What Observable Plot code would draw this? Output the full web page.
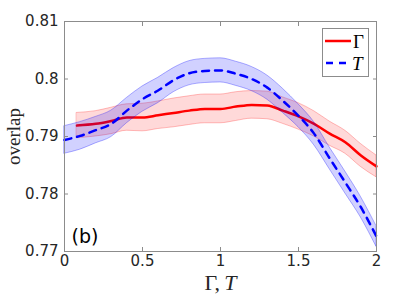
<!DOCTYPE html>
<html>
<head>
<meta charset="utf-8">
<script src="https://cdn.jsdelivr.net/npm/d3@7"></script>
<script src="https://cdn.jsdelivr.net/npm/@observablehq/plot@0.6"></script>
<style>
  html, body { margin: 0; padding: 0; background: #fff; }
  #wrap { position: relative; width: 416px; height: 296px; }
  #legend { position: absolute; left: 0; top: 0; pointer-events: none; }
</style>
</head>
<body>
<div id="wrap"></div>
<script>
// ---- data ----
const tX   = [0, 0.1, 0.2, 0.3, 0.4, 0.5, 0.6, 0.7, 0.8, 0.9, 1.0, 1.1, 1.2, 1.3, 1.4, 1.5, 1.6, 1.7, 1.8, 1.9, 2.0];
const tY   = [0.7894, 0.7901, 0.7911, 0.7922, 0.7945, 0.7965, 0.7980, 0.7998, 0.8010, 0.8014, 0.8015, 0.8009, 0.8000, 0.7985, 0.7962, 0.7936, 0.7905, 0.7862, 0.7820, 0.7777, 0.7726];
const tErr = [0.0024, 0.0024, 0.0023, 0.0023, 0.0022, 0.0022, 0.0022, 0.0021, 0.0021, 0.0021, 0.0021, 0.0021, 0.0021, 0.0021, 0.0021, 0.0020, 0.0020, 0.0019, 0.0019, 0.0018, 0.0018];

const gX   = [0.08, 0.2, 0.3, 0.4, 0.5, 0.6, 0.7, 0.8, 0.9, 1.0, 1.1, 1.2, 1.3, 1.4, 1.5, 1.6, 1.7, 1.8, 1.9, 2.0];
const gY   = [0.7919, 0.7922, 0.7927, 0.7933, 0.7933, 0.7937, 0.7941, 0.7945, 0.7948, 0.7948, 0.7952, 0.7955, 0.7954, 0.7945, 0.7935, 0.7922, 0.7905, 0.7890, 0.7867, 0.7848];
const gErr = [0.0022, 0.0022, 0.0023, 0.0023, 0.0024, 0.0024, 0.0025, 0.0025, 0.0025, 0.0025, 0.0025, 0.0024, 0.0024, 0.0023, 0.0023, 0.0022, 0.0021, 0.0020, 0.0020, 0.0019];

const xTicks = [0, 0.5, 1, 1.5, 2];
const yTicks = [0.77, 0.78, 0.79, 0.80, 0.81];
const legendLabels = ["Γ", "T"];

const tData = tX.map((x, i) => ({x, y: tY[i], lo: tY[i] - tErr[i], hi: tY[i] + tErr[i]}));
const gData = gX.map((x, i) => ({x, y: gY[i], lo: gY[i] - gErr[i], hi: gY[i] + gErr[i]}));

const fmt = d => String(+d.toFixed(2));
const blank = () => "";
const font = "DejaVu Sans, sans-serif";

const plot = Plot.plot({
  width: 416,
  height: 296,
  marginLeft: 64,
  marginRight: 40,
  marginTop: 21,
  marginBottom: 45,
  style: {fontFamily: font, fontSize: "15px", color: "#262626", background: "#fff"},
  x: {domain: [0, 2]},
  y: {domain: [0.77, 0.81]},
  marks: [
    Plot.areaY(gData, {x: "x", y1: "lo", y2: "hi", fill: "#ff0000", fillOpacity: 0.15, stroke: "#ff0000", strokeOpacity: 0.25, strokeWidth: 1, curve: "monotone-x"}),
    Plot.line(gData, {x: "x", y: "y", stroke: "#ff0000", strokeWidth: 2.5, curve: "monotone-x"}),
    Plot.areaY(tData, {x: "x", y1: "lo", y2: "hi", fill: "#0000ff", fillOpacity: 0.18, stroke: "#0000ff", strokeOpacity: 0.3, strokeWidth: 1, curve: "monotone-x"}),
    Plot.line(tData, {x: "x", y: "y", stroke: "#0000ff", strokeWidth: 2.5, strokeDasharray: "7,6", curve: "monotone-x"}),
    Plot.frame({stroke: "#8c8c8c", strokeWidth: 1}),
    Plot.axisX(xTicks, {anchor: "bottom", tickSize: -4, tickPadding: 8, tickFormat: fmt, stroke: "#8c8c8c", fill: "#262626", fontSize: 15, label: "Γ, T", labelAnchor: "center", labelOffset: 38, labelArrow: "none"}),
    Plot.axisX(xTicks, {anchor: "top", tickSize: -4, tickFormat: blank, label: null, stroke: "#8c8c8c"}),
    Plot.axisY(yTicks, {anchor: "left", tickSize: -4, tickPadding: 10, tickFormat: fmt, stroke: "#8c8c8c", fill: "#262626", fontSize: 15, label: "overlap", labelAnchor: "center", labelOffset: 58, labelArrow: "none"}),
    Plot.axisY(yTicks, {anchor: "right", tickSize: -4, tickFormat: blank, label: null, stroke: "#8c8c8c"}),
    Plot.text(["(b)"], {frameAnchor: "bottom-left", dx: 7, dy: -9, textAnchor: "start", lineAnchor: "bottom", fontSize: 19, fill: "#000"})
  ]
});

document.getElementById("wrap").appendChild(plot);

// style axis labels as serif math
const svg = d3.select(plot);
svg.selectAll('[aria-label="x-axis label"] text, [aria-label="y-axis label"] text').each(function() {
  const t = d3.select(this);
  const txt = t.text();
  t.attr("font-family", "Liberation Serif, serif").attr("fill", "#262626");
  if (txt === "Γ, T") {
    t.text(null).attr("font-size", 22);
    t.append("tspan").text("Γ,\u2009");
    t.append("tspan").attr("font-style", "italic").text("T");
  } else {
    t.attr("font-size", 19);
  }
});

// legend overlay
const lg = d3.select("#wrap").append("svg").attr("id", "legend").attr("width", 416).attr("height", 296);
lg.append("rect").attr("x", 322.5).attr("y", 28.5).attr("width", 46).attr("height", 48)
  .attr("fill", "#fff").attr("stroke", "#8c8c8c").attr("stroke-width", 1);
lg.append("line").attr("x1", 325).attr("x2", 351).attr("y1", 41).attr("y2", 41)
  .attr("stroke", "#ff0000").attr("stroke-width", 2.5);
lg.append("line").attr("x1", 326).attr("x2", 352).attr("y1", 63).attr("y2", 63)
  .attr("stroke", "#0000ff").attr("stroke-width", 2.5).attr("stroke-dasharray", "7,6");
lg.append("text").attr("x", 353).attr("y", 48).attr("font-family", "Liberation Serif, serif")
  .attr("font-size", 19).attr("fill", "#000").text(legendLabels[0]);
lg.append("text").attr("x", 352).attr("y", 70).attr("font-family", "Liberation Serif, serif")
  .attr("font-style", "italic").attr("font-size", 19).attr("fill", "#000").text(legendLabels[1]);
</script>
</body>
</html>
